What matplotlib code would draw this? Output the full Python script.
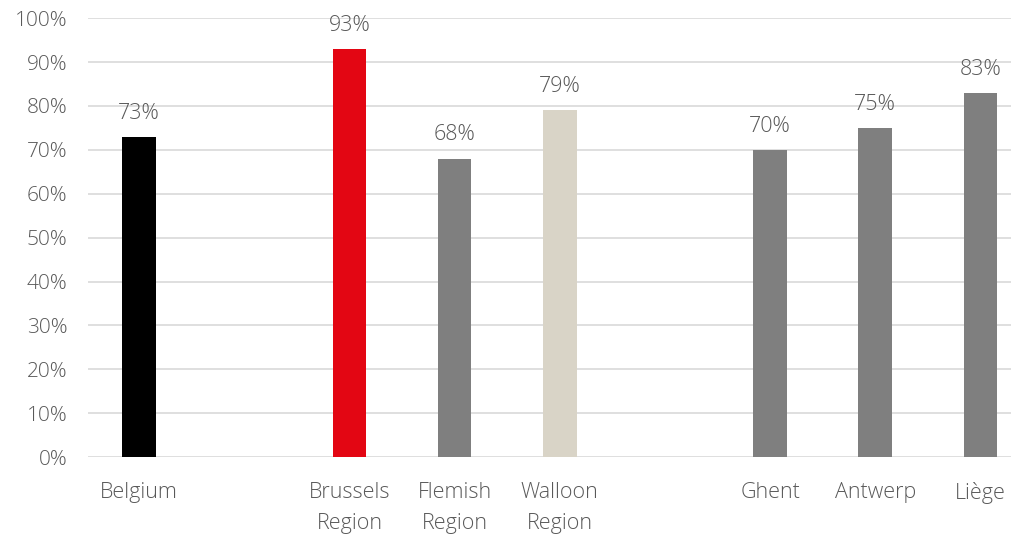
import matplotlib
matplotlib.use("Agg")
import matplotlib.pyplot as plt

# Share of residents (%) per area; None marks a spacer slot between groups
categories = ["Belgium", None, "Brussels\nRegion", "Flemish\nRegion", "Walloon\nRegion",
              None, "Ghent", "Antwerp", "Liège"]
values = [73, None, 93, 68, 79, None, 70, 75, 83]
colors = ["#000000", None, "#e30613", "#7f7f7f", "#d9d4c7", None, "#7f7f7f", "#7f7f7f", "#7f7f7f"]
y_ticks = [0, 10, 20, 30, 40, 50, 60, 70, 80, 90, 100]

TEXT = "#595959"
plt.rcParams["font.family"] = ["Open Sans", "DejaVu Sans"]

fig = plt.figure(figsize=(10.12, 5.34), dpi=100)
ax = fig.add_axes([0.087, 0.144, 0.913, 0.822])

pos = [i for i, v in enumerate(values) if v is not None]
vals = [values[i] for i in pos]
cols = [colors[i] for i in pos]
labels = [categories[i] for i in pos]

bars = ax.bar(pos, vals, width=0.32, color=cols, zorder=3)
for b, v in zip(bars, vals):
    ax.text(b.get_x() + b.get_width() / 2, v + 3.0, f"{v}%", ha="center", va="bottom",
            fontsize=15.5, color=TEXT, fontweight="light")

ax.set_ylim(0, 100)
ax.set_xlim(-0.485, 8.3)
ax.set_yticks(y_ticks)
ax.set_yticklabels([f"{t}%" for t in y_ticks], fontsize=15, color=TEXT, fontweight="light")
ax.set_xticks(pos)
ax.set_xticklabels(labels, fontsize=15.5, color=TEXT, fontweight="light", linespacing=1.6)
ax.tick_params(axis="both", length=0)
ax.tick_params(axis="x", pad=18)
ax.tick_params(axis="y", pad=15)
ax.grid(axis="y", color="#d9d9d9", linewidth=1.2, zorder=0)
for s in ax.spines.values():
    s.set_visible(False)

fig.savefig("out.png", dpi=100)
